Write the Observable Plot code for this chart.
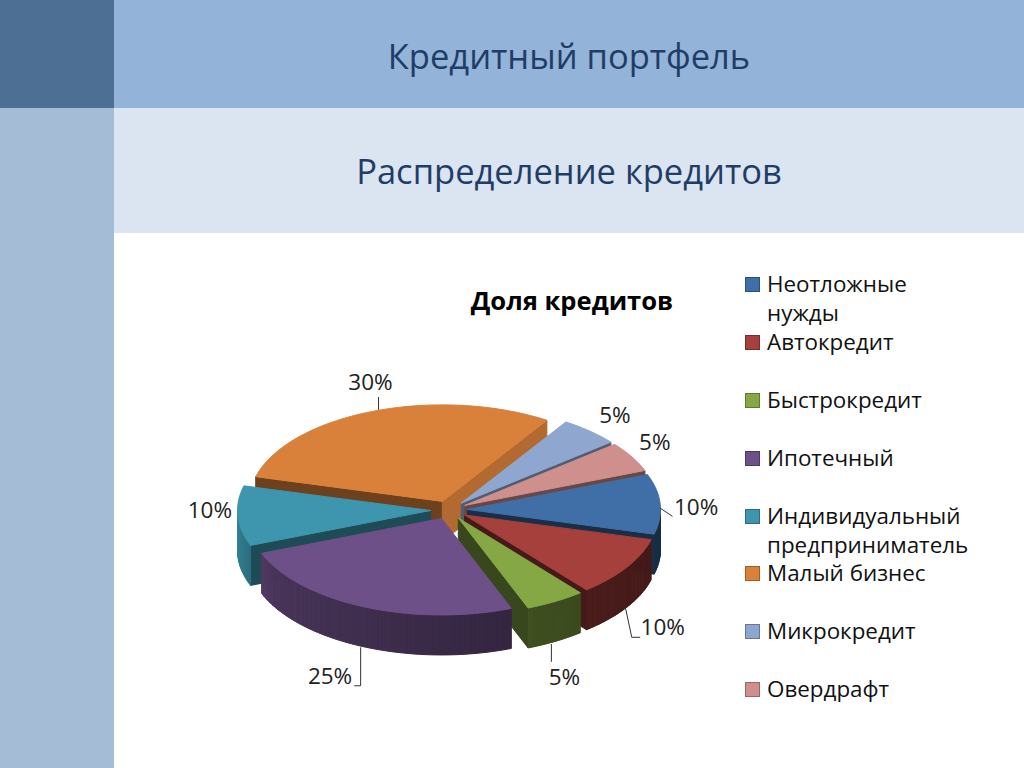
<!DOCTYPE html>
<html lang="ru">
<head>
<meta charset="utf-8">
<script src="https://cdn.jsdelivr.net/npm/d3@7"></script>
<script src="https://cdn.jsdelivr.net/npm/@observablehq/plot@0.6"></script>
<style>
  html, body { margin: 0; padding: 0; background: #fff; width: 1024px; height: 768px; overflow: hidden; }
  body { position: relative; font-family: "Open Sans", sans-serif; }
  .side { position: absolute; left: 0; width: 114px; }
  .band { position: absolute; left: 114px; right: 0; text-align: center; color: #1f3d66; white-space: nowrap; }
  #band1 { top: 0; height: 108px; background: #94b3d8; }
  #band2 { top: 108px; height: 125px; background: #dbe5f1; }
  #band1 span, #band2 span { position: absolute; transform: translate(-50%, -50%); }
  #chartTitle { position: absolute; left: 572px; top: 300px; transform: translate(-50%, -50%); font-weight: 700; font-size: 25.6px; color: #000; white-space: nowrap; }
  #plot { position: absolute; left: 114px; top: 233px; }
  #legend { position: absolute; left: 745px; top: 256px; }
  .row { position: absolute; left: 0; width: 270px; font-size: 22.4px; line-height: 29px; color: #111; }
  .sw { position: absolute; left: 0; top: 8px; width: 13px; height: 13px; border: 1px solid rgba(0,0,0,.28); box-sizing: content-box; }
  .lb { position: absolute; left: 22px; top: 0; white-space: nowrap; }
</style>
</head>
<body>
<div class="side" style="top:0;height:108px;background:#4d6f94"></div>
<div class="side" style="top:108px;height:660px;background:#a5bcd6"></div>
<div class="band" id="band1"><span style="left:455px;top:55px;font-size:34.5px">Кредитный портфель</span></div>
<div class="band" id="band2"><span style="left:455px;top:62px;font-size:34.5px">Распределение кредитов</span></div>
<div id="plot"></div>
<div id="chartTitle">Доля кредитов</div>
<div id="legend"></div>
<script>
// --- data ---
const categories = ["Неотложные нужды", "Автокредит", "Быстрокредит", "Ипотечный",
  "Индивидуальный предприниматель", "Малый бизнес", "Микрокредит", "Овердрафт"];
const shares = [10, 10, 5, 25, 10, 30, 5, 5];
const colors = ["#3f6fa6", "#a5403c", "#86a844", "#6e5088", "#3d96ae", "#d9813b", "#8fa7cf", "#cf8f8d"];
const legendLines = [["Неотложные", "нужды"], ["Автокредит"], ["Быстрокредит"], ["Ипотечный"],
  ["Индивидуальный", "предприниматель"], ["Малый бизнес"], ["Микрокредит"], ["Овердрафт"]];

// --- 3-D pie layout (pie units: x radius = 1, y radius = 1) ---
const pxX = 193, pxY = 96.5;          // pixels per unit
const W = 910, H = 535, cx = 334.5, cy = 276.5;
const depth = 40 / pxY, explode = 18.5 / pxX, startAngle = -21.2;
const paintOrder = [5, 6, 7, 0, 1, 2, 4, 3];
const cutShade = [.42, .42, .42, .5, .42, .82, .55, .5];   // radial cut at slice end
const cutShadeStart = .5;                                   // radial cut at slice start

// label offsets and leader paths, in pixels relative to the point on the slice's edge
const labelNudge = [[36, 4], [36, 21], [9, 36], [-33.6, 30.4], [-28, -45], [-2, -29], [25, -15], [23, -14]];
const leaderPath = [
  [[0, 4], [12, 12]],
  [[-1, 2], [5, 30], [13, 30]],
  [[-4, 3], [-4, 20]],
  [[-3, 1], [-3, 39], [-9, 39]],
  [],
  [[6, -2], [6, -14]],
  [],
  []
];

const rad = d => d * Math.PI / 180;
function shadeColor(hex, k) {
  const c = d3.rgb(hex);
  return d3.rgb(c.r * k, c.g * k, c.b * k).formatHex();
}
// wall brightness: light comes from the left
const wallShade = d3.scaleLinear().domain([0, 30, 70, 110, 150, 180]).range([.4, .42, .47, .56, .66, .88]);

let acc = startAngle;
const slices = shares.map((s, i) => {
  const a0 = acc, a1 = acc + s * 3.6; acc = a1;
  const mid = (a0 + a1) / 2;
  return {i, a0, a1, mid, ox: explode * Math.cos(rad(mid)), oy: explode * Math.sin(rad(mid))};
});

const polys = [];
let pid = 0;
function addPoly(points, color) {
  const id = pid++;
  // repeat the first point so that the stroke closes the shape and hides seams
  [...points, points[0]].forEach(([x, y]) => polys.push({id, x, y, color}));
}
function angles(a0, a1, step) {
  const n = Math.max(1, Math.ceil((a1 - a0) / step));
  return d3.range(n + 1).map(k => a0 + (a1 - a0) * k / n);
}
for (const i of paintOrder) {
  const s = slices[i], base = colors[i];
  const P = (a, z = 0) => [s.ox + Math.cos(rad(a)), s.oy + Math.sin(rad(a)) + z];
  const O = (z = 0) => [s.ox, s.oy + z];
  if (Math.cos(rad(s.a0)) < 0)
    addPoly([O(), P(s.a0), P(s.a0, depth), O(depth)], shadeColor(base, cutShadeStart));
  if (Math.cos(rad(s.a1)) > 0)
    addPoly([O(), P(s.a1), P(s.a1, depth), O(depth)], shadeColor(base, cutShade[i]));
  // outer wall, only the part facing the viewer
  const w0 = Math.max(s.a0, 0), w1 = Math.min(s.a1, 180);
  if (w1 > w0) {
    const as = angles(w0, w1, 1);
    for (let k = 0; k < as.length - 1; k++) {
      addPoly([P(as[k]), P(as[k + 1]), P(as[k + 1], depth), P(as[k], depth)],
        shadeColor(base, wallShade((as[k] + as[k + 1]) / 2)));
    }
  }
  addPoly([O(), ...angles(s.a0, s.a1, 2).map(a => P(a))], base);
}

// labels and leaders follow the slices
const labels = [], leaders = [];
slices.forEach(s => {
  const sn = Math.sin(rad(s.mid));
  const ax = s.ox + Math.cos(rad(s.mid));
  const ay = s.oy + sn + (sn > 0 ? depth : 0);
  const [nx, ny] = labelNudge[s.i];
  labels.push({x: ax + nx / pxX, y: ay + ny / pxY, text: shares[s.i] + "%"});
  leaderPath[s.i].forEach(([dx, dy]) => leaders.push({id: s.i, x: ax + dx / pxX, y: ay + dy / pxY}));
});

const chart = Plot.plot({
  width: W, height: H,
  margin: 0,
  x: {domain: [-cx / pxX, (W - cx) / pxX], range: [0, W], axis: null},
  y: {domain: [-cy / pxY, (H - cy) / pxY], range: [0, H], axis: null},
  color: {type: "identity"},
  style: {fontFamily: '"Open Sans", sans-serif', background: "transparent"},
  marks: [
    Plot.line(polys, {x: "x", y: "y", z: "id", fill: "color", stroke: "color", strokeWidth: 1, curve: "linear"}),
    Plot.line(leaders, {x: "x", y: "y", z: "id", stroke: "#333", strokeWidth: 1, curve: "linear"}),
    Plot.text(labels, {x: "x", y: "y", text: "text", fontSize: 22.5, fill: "#222", textAnchor: "middle", lineAnchor: "middle"})
  ]
});
document.getElementById("plot").append(chart);

// legend
const rowTops = [0, 58, 116, 173.5, 231.5, 289, 346.5, 404.5];
const legend = document.getElementById("legend");
legendLines.forEach((lines, i) => {
  const row = document.createElement("div");
  row.className = "row";
  row.style.top = (13 + rowTops[i]) + "px";
  const sw = document.createElement("div");
  sw.className = "sw";
  sw.style.background = colors[i];
  const lb = document.createElement("div");
  lb.className = "lb";
  lb.innerHTML = lines.join("<br>");
  row.append(sw, lb);
  legend.append(row);
});
</script>
</body>
</html>
